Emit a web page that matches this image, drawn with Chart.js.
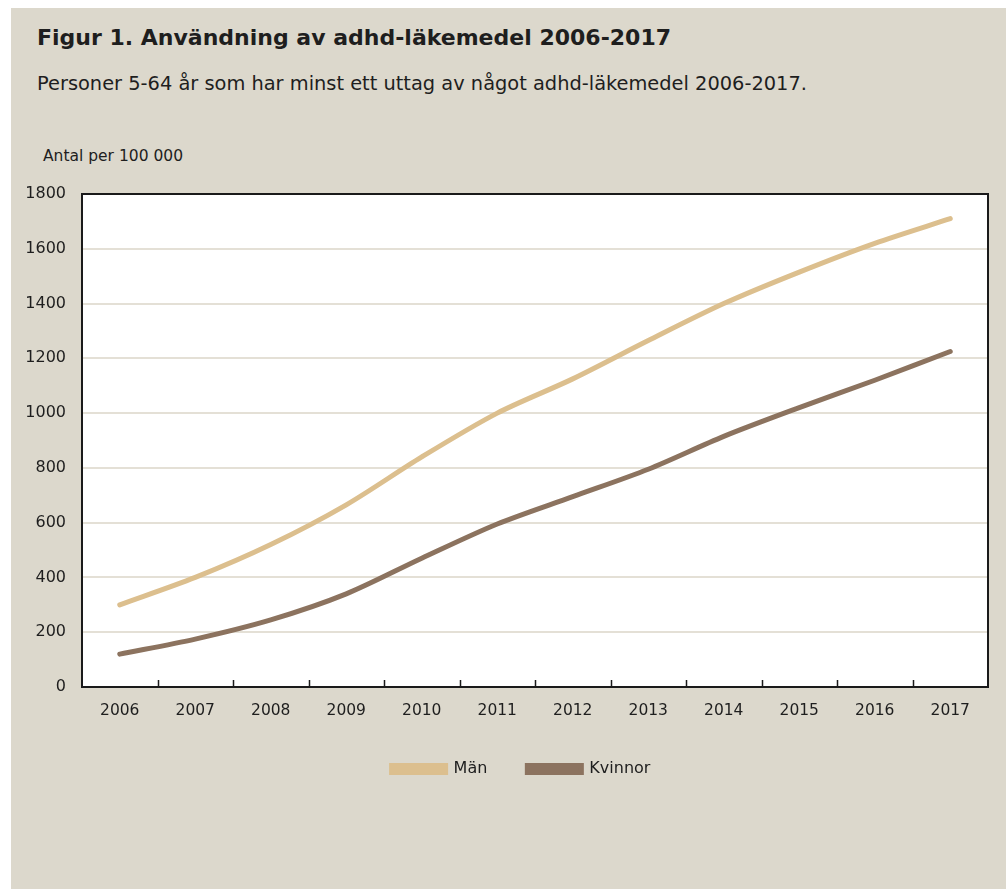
<!DOCTYPE html>
<html lang="sv">
<head>
<meta charset="utf-8">
<title>Användning av adhd-läkemedel 2006-2017</title>
<script src="https://cdn.jsdelivr.net/npm/chart.js@4/dist/chart.umd.min.js"></script>
<style>
  html, body { margin: 0; padding: 0; background: #ffffff; }
  body { width: 1006px; height: 889px; position: relative; overflow: hidden; font-family: "DejaVu Sans", sans-serif; color: #1e1e1e; }
  #panel { position: absolute; left: 11px; top: 8px; width: 995px; height: 881px; background: #dcd8cc; }
  #title { position: absolute; left: 37px; top: 25px; font-size: 22px; font-weight: bold; white-space: nowrap; }
  #subtitle { position: absolute; left: 37px; top: 72px; font-size: 19.4px; white-space: nowrap; }
  #unit { position: absolute; left: 43px; top: 147px; font-size: 15.5px; white-space: nowrap; }
  #wrap { position: absolute; left: 0; top: 0; width: 1006px; height: 787px; }
</style>
</head>
<body>
<div id="panel"></div>
<div id="title">Figur 1. Användning av adhd-läkemedel 2006-2017</div>
<div id="subtitle">Personer 5-64 år som har minst ett uttag av något adhd-läkemedel 2006-2017.</div>
<div id="unit">Antal per 100 000</div>
<div id="wrap"><canvas id="adhdChart"></canvas></div>
<script>
// År och antal personer per 100 000 med minst ett uttag
const years = ["2006", "2007", "2008", "2009", "2010", "2011", "2012", "2013", "2014", "2015", "2016", "2017"];
const man = [300, 400, 520, 665, 840, 1000, 1125, 1265, 1400, 1515, 1620, 1710];
const kvinnor = [120, 175, 245, 340, 470, 595, 695, 795, 915, 1020, 1120, 1225];
const yTicks = [0, 200, 400, 600, 800, 1000, 1200, 1400, 1600, 1800];

const fontFamily = '"DejaVu Sans", sans-serif';

// Vit bakgrund i diagramytan, ram runt den och små streck mellan åren
const plotFrame = {
    id: 'plotFrame',
    afterLayout(chart) {
        // förklaringen ligger lite till höger om mitten
        chart.legend.left += 27;
        chart.legend.right += 27;
    },
    beforeDraw(chart) {
        const { ctx, chartArea: a } = chart;
        ctx.save();
        ctx.fillStyle = '#ffffff';
        ctx.fillRect(a.left, a.top, a.right - a.left, a.bottom - a.top);
        ctx.restore();
    },
    afterDatasetsDraw(chart) {
        const { ctx, chartArea: a } = chart;
        const x = chart.scales.x;
        ctx.save();
        ctx.strokeStyle = '#1a1a1a';
        ctx.lineWidth = 2;
        ctx.strokeRect(a.left, a.top, a.right - a.left, a.bottom - a.top);
        ctx.beginPath();
        for (let i = 1; i < years.length; i++) {
            const bx = Math.round((x.getPixelForTick(i - 1) + x.getPixelForTick(i)) / 2) + 0.5;
            ctx.moveTo(bx, a.bottom);
            ctx.lineTo(bx, a.bottom - 7);
        }
        ctx.lineWidth = 1.5;
        ctx.stroke();
        ctx.restore();
    }
};

const ctx = document.getElementById('adhdChart').getContext('2d');
const adhdChart = new Chart(ctx, {
    type: 'line',
    data: {
        labels: years,
        datasets: [
            {
                label: 'Män',
                data: man,
                borderColor: '#dcbf8e',
                backgroundColor: '#dcbf8e',
                borderWidth: 5,
                borderCapStyle: 'round',
                pointRadius: 0,
                tension: 0.3
            },
            {
                label: 'Kvinnor',
                data: kvinnor,
                borderColor: '#8c735f',
                backgroundColor: '#8c735f',
                borderWidth: 5,
                borderCapStyle: 'round',
                pointRadius: 0,
                tension: 0.3
            }
        ]
    },
    options: {
        responsive: true,
        maintainAspectRatio: false,
        animation: false,
        layout: { padding: { top: 194, left: 0, right: 18, bottom: 0 } },
        plugins: {
            title: { display: false },
            tooltip: { enabled: false },
            legend: {
                position: 'bottom',
                labels: {
                    boxWidth: 54,
                    boxHeight: 7,
                    padding: 40,
                    color: '#1e1e1e',
                    font: { family: fontFamily, size: 16 }
                }
            }
        },
        scales: {
            x: {
                offset: true,
                grid: { display: false, drawTicks: false },
                border: { display: false },
                ticks: {
                    padding: 15,
                    color: '#1e1e1e',
                    font: { family: fontFamily, size: 15.5 },
                    maxRotation: 0
                },
                afterFit(scale) { scale.height = 34; }
            },
            y: {
                min: 0,
                max: 1800,
                afterBuildTicks(scale) { scale.ticks = yTicks.map(v => ({ value: v })); },
                grid: { color: '#e4e0d6', lineWidth: 2, drawTicks: false },
                border: { display: false },
                ticks: {
                    padding: 16,
                    color: '#1e1e1e',
                    font: { family: fontFamily, size: 16 },
                    callback: (value) => String(value)
                },
                afterFit(scale) { scale.width = 82; }
            }
        }
    },
    plugins: [plotFrame]
});
</script>
</body>
</html>
